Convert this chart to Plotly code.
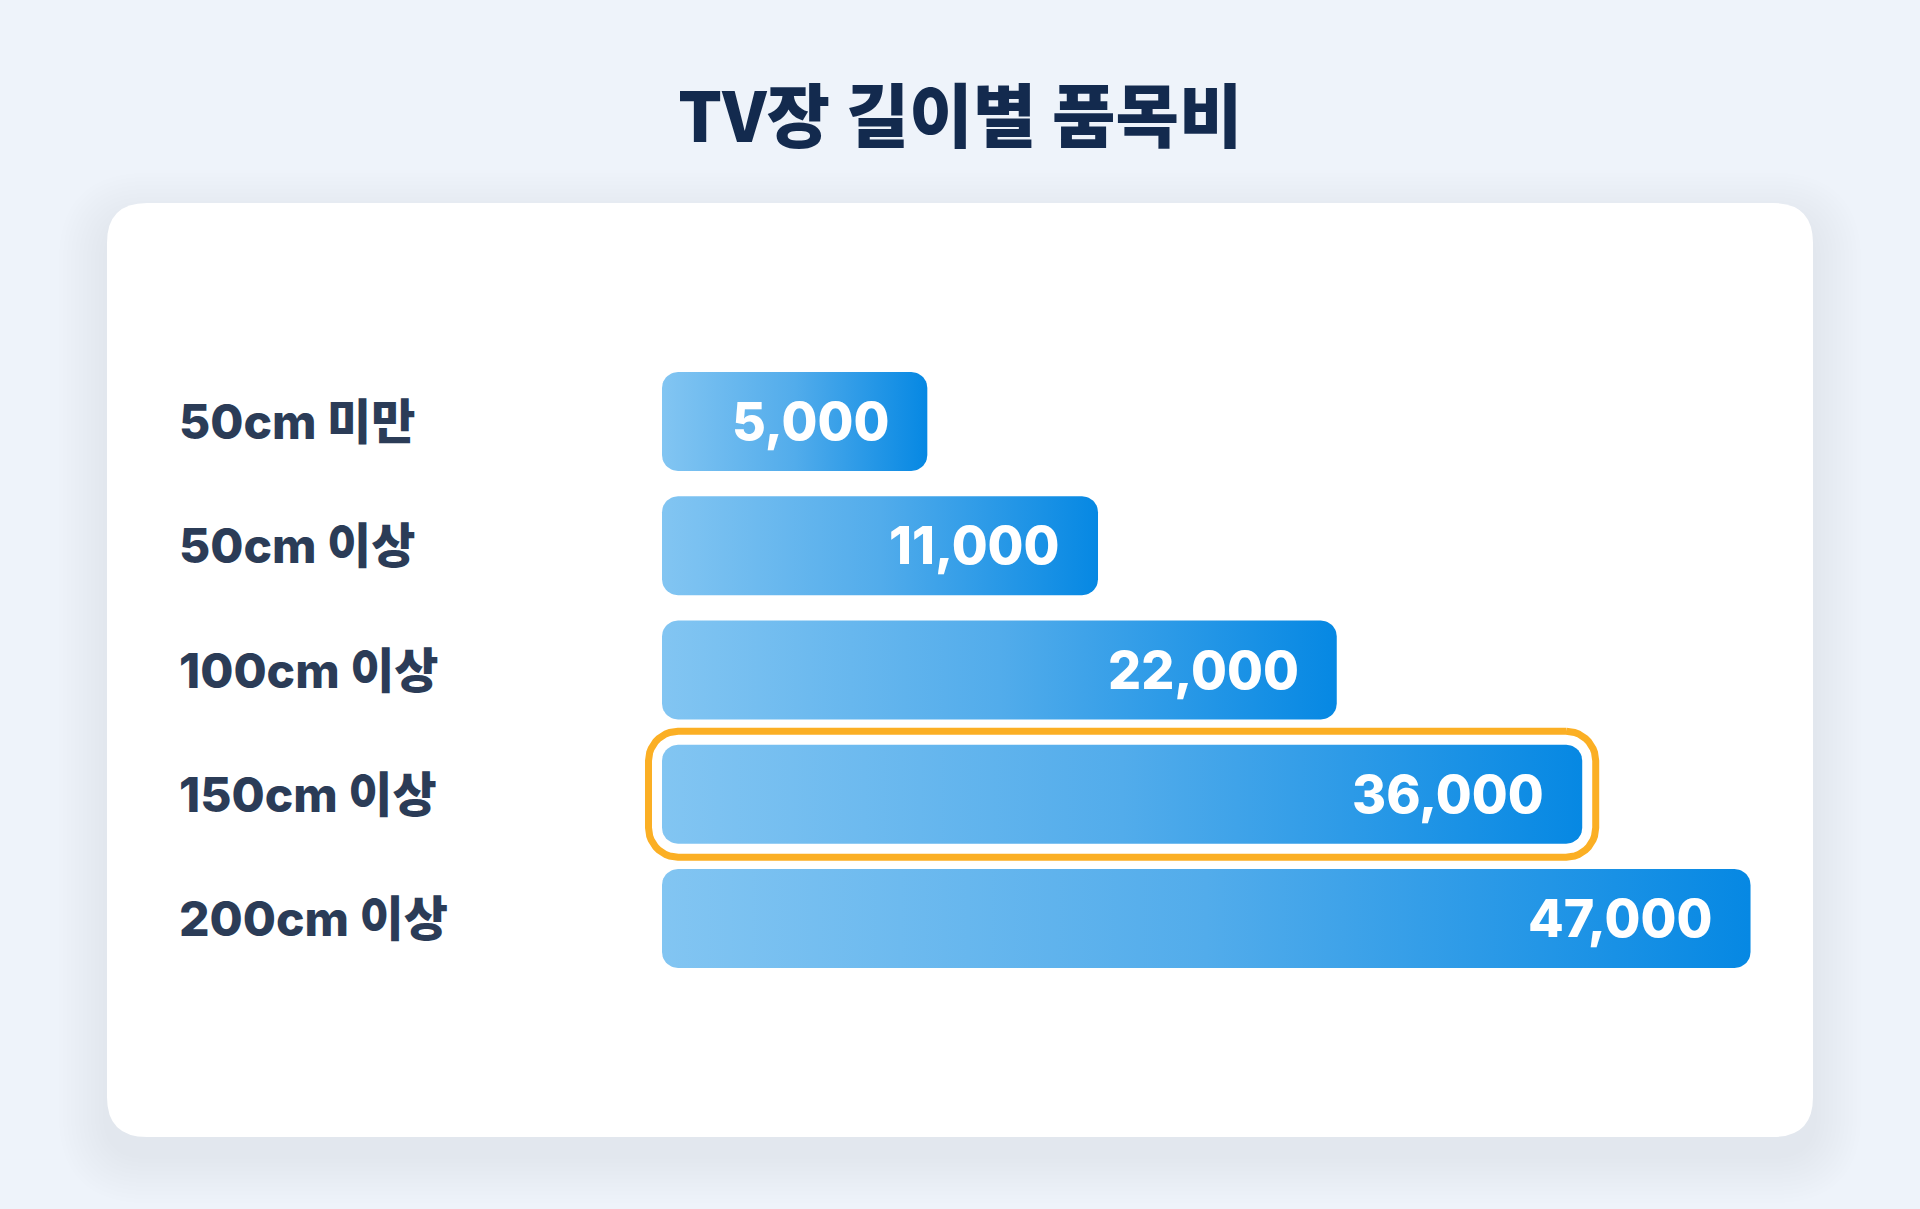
import numpy as np
import plotly.graph_objects as go

# ---------------- data ----------------
categories = ["50cm 미만", "50cm 이상", "100cm 이상", "150cm 이상", "200cm 이상"]
values = [5000, 11000, 22000, 36000, 47000]
highlight_category = "150cm 이상"
title_text = "TV장 길이별 품목비"

# ---------------- layout constants ----------------
W, H = 1920, 1209
BG = "#EEF3FA"
FONT = "Inter, 'Noto Sans CJK KR', 'Noto Sans', sans-serif"
TITLE_FONT = "'Noto Sans CJK KR', Inter, sans-serif"

EXP = 0.63              # power display scale of the bar axis
BAR_ZERO_PX = 662       # pixel position of value 0
PX_PER_UNIT = 1.24      # pixels per scaled unit
ROW0_PX = 421.5         # centre of first row
ROW_PITCH = 124.25
BAR_H_PX = 99
RADIUS_PX = 16
HL_PAD_PX = 13.5
HL_COLOR = "#FBAF24"

scaled = np.power(np.array(values, dtype=float), EXP)
x_range = [-BAR_ZERO_PX / PX_PER_UNIT, (W - BAR_ZERO_PX) / PX_PER_UNIT]
y_range = [(H - ROW0_PX) / ROW_PITCH, -ROW0_PX / ROW_PITCH]

px_x = 1.0 / PX_PER_UNIT
px_y = 1.0 / ROW_PITCH


def rounded_rect(x0, x1, y0, y1, rx, ry, n=12):
    xs, ys = [], []
    corners = [
        (x1 - rx, y0 + ry, -90, 0),
        (x1 - rx, y1 - ry, 0, 90),
        (x0 + rx, y1 - ry, 90, 180),
        (x0 + rx, y0 + ry, 180, 270),
    ]
    for cx, cy, a0, a1 in corners:
        for a in np.linspace(np.radians(a0), np.radians(a1), n):
            xs.append(cx + rx * np.cos(a))
            ys.append(cy + ry * np.sin(a))
    xs.append(xs[0])
    ys.append(ys[0])
    return xs, ys


fig = go.Figure()

half = BAR_H_PX / 2 * px_y
for i, (cat, v, s) in enumerate(zip(categories, values, scaled)):
    xs, ys = rounded_rect(0, s, i - half, i + half, RADIUS_PX * px_x, RADIUS_PX * px_y)
    fig.add_trace(go.Scatter(
        x=xs, y=ys, mode="lines", line=dict(width=0), fill="toself",
        fillgradient=dict(type="horizontal",
                          colorscale=[[0, "#82C5F2"], [0.5, "#52ACEB"], [1, "#0688E3"]]),
        hoverinfo="skip", showlegend=False,
    ))
    if cat == highlight_category:
        pad_x = HL_PAD_PX * px_x
        pad_y = HL_PAD_PX * px_y
        r = RADIUS_PX + HL_PAD_PX
        hx, hy = rounded_rect(-pad_x, s + pad_x, i - half - pad_y, i + half + pad_y,
                              r * px_x, r * px_y)
        fig.add_trace(go.Scatter(
            x=hx, y=hy, mode="lines", line=dict(width=7, color=HL_COLOR),
            hoverinfo="skip", showlegend=False,
        ))
    # value label
    fig.add_annotation(
        x=s, y=i, xref="x", yref="y", text=f"{v:,}", showarrow=False,
        xanchor="right", yanchor="middle", xshift=-36,
        font=dict(family=FONT, size=52, color="white", weight=800),
    )
    # category label
    fig.add_annotation(
        x=177 / W, y=i, xref="paper", yref="y", text=cat, showarrow=False,
        xanchor="left", yanchor="middle",
        font=dict(family=FONT, size=48, color="#2B3C57", weight=800),
    )

# title
fig.add_annotation(
    x=0.5, y=1 - 112 / H, xref="paper", yref="paper", text=title_text,
    showarrow=False, xanchor="center", yanchor="middle",
    font=dict(family=TITLE_FONT, size=69, color="#132A4E", weight=900),
)

# card + shadow
def card_path(x0, y0, x1, y1, r):
    # pixel coords (top-left origin) -> paper coords
    def P(x, y):
        return f"{x / W:.6f},{1 - y / H:.6f}"
    return (f"M {P(x0 + r, y0)} L {P(x1 - r, y0)} Q {P(x1, y0)} {P(x1, y0 + r)} "
            f"L {P(x1, y1 - r)} Q {P(x1, y1)} {P(x1 - r, y1)} "
            f"L {P(x0 + r, y1)} Q {P(x0, y1)} {P(x0, y1 - r)} "
            f"L {P(x0, y0 + r)} Q {P(x0, y0)} {P(x0 + r, y0)} Z")

CARD = (107, 203, 1813, 1137)
shapes = []
for k in range(12, 0, -1):
    e = k * 4
    dy = 18
    shapes.append(dict(
        type="path", xref="paper", yref="paper", layer="below",
        path=card_path(CARD[0] - e, CARD[1] - e + dy, CARD[2] + e, CARD[3] + e + dy, 40 + e),
        fillcolor="rgba(70,100,150,0.0085)", line=dict(width=0),
    ))
shapes.append(dict(
    type="path", xref="paper", yref="paper", layer="below",
    path=card_path(*CARD, 40), fillcolor="white", line=dict(width=0),
))

fig.update_layout(
    width=W, height=H, autosize=False,
    margin=dict(l=0, r=0, t=0, b=0, pad=0),
    paper_bgcolor=BG, plot_bgcolor="rgba(0,0,0,0)",
    xaxis=dict(range=x_range, visible=False, showgrid=False, zeroline=False, fixedrange=True),
    yaxis=dict(range=y_range, visible=False, showgrid=False, zeroline=False, fixedrange=True),
    shapes=shapes,
    showlegend=False,
)

fig.write_html(
    "out.html",
    config={"displayModeBar": False},
    post_script="document.body.style.margin='0';document.body.style.overflow='hidden';",
)
